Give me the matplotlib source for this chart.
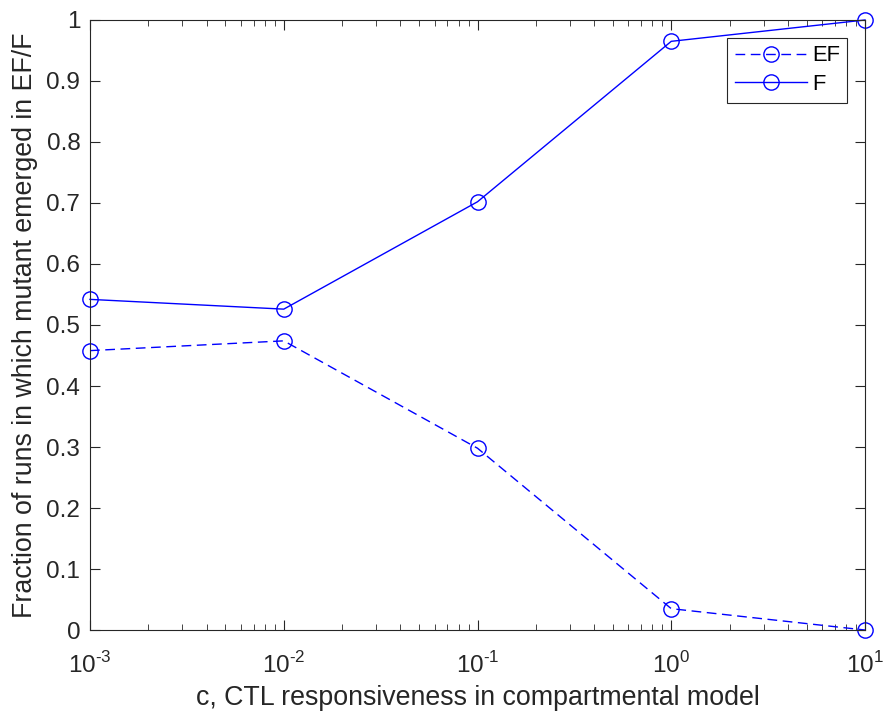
#! /usr/bin/env python3
"""Fraction of runs with mutant emergence vs CTL responsiveness."""
import matplotlib

matplotlib.use("Agg")
import matplotlib.pyplot as plt
from matplotlib.ticker import LogLocator, NullFormatter

c_values = [1e-3, 1e-2, 1e-1, 1e0, 1e1]
frac_ef = [0.458, 0.474, 0.298, 0.035, 0.0]
frac_f = [0.542, 0.526, 0.702, 0.965, 1.0]
x_exponents = ["-3", "-2", "-1", "0", "1"]
y_ticks = [0, 0.1, 0.2, 0.3, 0.4, 0.5, 0.6, 0.7, 0.8, 0.9, 1]
y_labels = ["0", "0.1", "0.2", "0.3", "0.4", "0.5", "0.6", "0.7", "0.8", "0.9", "1"]

plt.rcParams["font.family"] = ["Liberation Sans", "DejaVu Sans"]
plt.rcParams["mathtext.fontset"] = "custom"
plt.rcParams["mathtext.rm"] = "Liberation Sans"

axis_grey = "#262626"
blue = "#0000ff"
tick_size = 17.5
label_size = 19.3
legend_size = 15.8

fig = plt.figure(figsize=(8.85, 7.11), dpi=100)
ax = fig.add_axes([0.1017, 0.1139, 0.8757, 0.858])

marker_style = dict(marker="o", markersize=11, markerfacecolor="none",
                    markeredgewidth=1, clip_on=False)
ax.plot(c_values, frac_ef, linestyle=(0, (7, 4)), color=blue, lw=1,
        label="EF", **marker_style)
ax.plot(c_values, frac_f, linestyle="-", color=blue, lw=1,
        label="F", **marker_style)

ax.set_xscale("log")
ax.set_xlim(1e-3, 1e1)
ax.set_ylim(0, 1)
ax.set_xticks(c_values)
# plain hyphen in the exponent, like the MATLAB tick labels
ax.set_xticklabels([r"$10^{\text{%s}}$" % e for e in x_exponents])
ax.xaxis.set_minor_locator(LogLocator(base=10, subs=range(2, 10), numticks=20))
ax.xaxis.set_minor_formatter(NullFormatter())
ax.set_yticks(y_ticks)
ax.set_yticklabels(y_labels)

for side in ax.spines.values():
    side.set_color(axis_grey)
    side.set_linewidth(0.8)
ax.tick_params(which="both", direction="in", top=True, right=True,
               colors=axis_grey, labelsize=tick_size)
ax.tick_params(which="major", length=7, width=0.8, pad=7)
ax.tick_params(which="minor", length=4, width=0.6)
ax.tick_params(axis="x", which="major", pad=16)

ax.set_xlabel("c, CTL responsiveness in compartmental model",
              fontsize=label_size, color=axis_grey, labelpad=5)
ax.set_ylabel("Fraction of runs in which mutant emerged in EF/F",
              fontsize=label_size, color=axis_grey, labelpad=6)

leg = ax.legend(loc="upper right", fontsize=legend_size, fancybox=False,
                framealpha=1, edgecolor=axis_grey, handlelength=3.3,
                borderaxespad=0.8, borderpad=0.35, labelspacing=0.35,
                handletextpad=0.2)
leg.get_frame().set_linewidth(0.8)

fig.savefig("out.png", dpi=100)
